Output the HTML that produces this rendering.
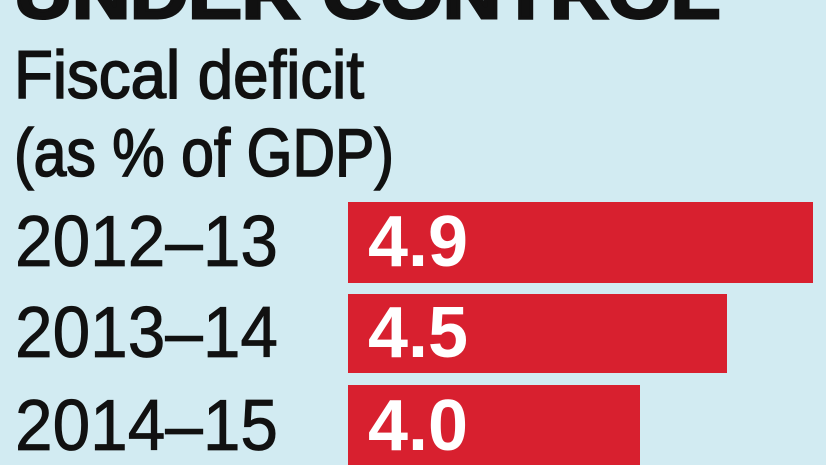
<!DOCTYPE html>
<html><head><meta charset="utf-8"><style>
html,body{margin:0;padding:0;background:#d2ebf2;}
svg{display:block}
</style></head><body>
<svg width="826" height="465" viewBox="0 0 826 465" xmlns="http://www.w3.org/2000/svg">
<rect width="826" height="465" fill="#d2ebf2"/>
<text x="14" y="18" font-family="Liberation Sans, sans-serif" font-weight="bold" font-size="70" textLength="706" lengthAdjust="spacingAndGlyphs" fill="#111" stroke="#111" stroke-width="3">UNDER CONTROL</text>
<g font-family="Liberation Sans, sans-serif" fill="#111" stroke="#111" stroke-width="1.6">
<text x="14" y="98" font-size="68" textLength="350" lengthAdjust="spacingAndGlyphs">Fiscal deficit</text>
<text x="14" y="176" font-size="68" textLength="380" lengthAdjust="spacingAndGlyphs">(as % of GDP)</text>
</g>
<rect x="348" y="202" width="465" height="81" fill="#d8202f"/>
<rect x="348" y="294" width="379" height="79" fill="#d8202f"/>
<rect x="348" y="385" width="292" height="80" fill="#d8202f"/>
<g font-family="Liberation Sans, sans-serif" font-size="72" fill="#111" stroke="#111" stroke-width="0.8">
<text x="15" y="266" textLength="263" lengthAdjust="spacingAndGlyphs">2012–13</text>
<text x="15" y="357" textLength="263" lengthAdjust="spacingAndGlyphs">2013–14</text>
<text x="15" y="450" textLength="263" lengthAdjust="spacingAndGlyphs">2014–15</text>
</g>
<g font-family="Liberation Sans, sans-serif" font-weight="bold" font-size="72" fill="#fff">
<text x="368" y="266" textLength="100" lengthAdjust="spacingAndGlyphs">4.9</text>
<text x="368" y="357" textLength="100" lengthAdjust="spacingAndGlyphs">4.5</text>
<text x="368" y="450" textLength="100" lengthAdjust="spacingAndGlyphs">4.0</text>
</g>
</svg>
</body></html>
